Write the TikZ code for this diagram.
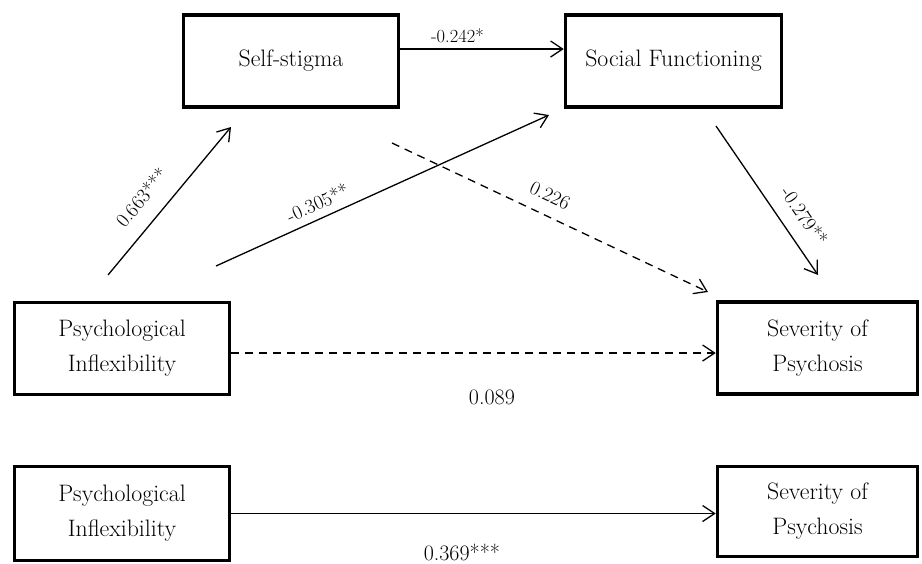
\documentclass[tikz,border=0pt]{standalone}
\usetikzlibrary{arrows.meta,calc}
\begin{document}
\begin{tikzpicture}[x=1pt,y=-1pt,
  varbox/.style={draw,line width=3.5pt,minimum width=215pt,minimum height=92pt,
    align=center,inner sep=0pt,font=\fontsize{23.8}{35}\selectfont},
  path/.style={line width=1.3pt,-{Straight Barb[length=12pt,width=16pt,line width=1.3pt]}},
  weak/.style={path,dash pattern=on 8pt off 6pt},
  coef/.style={font=\fontsize{20}{22}\selectfont,inner sep=0pt,sloped},
  coefb/.style={font=\fontsize{22}{24}\selectfont,inner sep=0pt}]
\useasboundingbox (0,0) rectangle (922,563);

% variables of the mediation model
\node[varbox] (ss) at (291,61) {Self-stigma};
\node[varbox,minimum width=216pt] (sf) at (673.5,61) {Social Functioning};
\node[varbox] (pi) at (122,348.5) {Psychological\\Inflexibility};
\node[varbox,minimum width=200pt] (sev) at (817.5,348) {Severity of\\Psychosis};

% variables of the total-effect model
\node[varbox,minimum height=94pt] (pib) at (122,513.5) {Psychological\\Inflexibility};
\node[varbox,minimum width=200pt,minimum height=90pt] (sevb) at (817.5,511.5) {Severity of\\Psychosis};

% free ends of the path arrows
\coordinate (a1s) at (108,275);  \coordinate (a1e) at (231,127);
\coordinate (a2s) at (216,266);  \coordinate (a2e) at (549,115);
\coordinate (a3s) at (392,143);  \coordinate (a3e) at (708,292);
\coordinate (a4s) at (716,126);  \coordinate (a4e) at (818,275);
\coordinate (h1) at ([yshift=-4.5pt]pi.east);

% mediation paths
\draw[path] ([yshift=12pt]ss.east) -- ([yshift=12pt]sf.west)
  node[coef,font=\fontsize{18.5}{20}\selectfont,pos=0.35,above=6pt] {-0.242*};
\draw[path] (a1s) -- (a1e) node[coef,pos=0.42,above=15.5pt] {0.663***};
\draw[path] (a2s) -- (a2e) node[coef,pos=0.324,above=7.5pt] {-0.305**};
\draw[weak] (a3s) -- (a3e) node[coef,pos=0.473,above=12.5pt] {0.226};
\draw[path] (a4s) -- (a4e) node[coef,pos=0.688,above=14pt] {-0.279**};
\draw[weak] (h1) -- (h1 -| sev.west) node[coefb,pos=0.538,below=36pt] {0.089};

% total effect
\draw[path] (pib.east) -- (pib.east -| sevb.west)
  node[coefb,pos=0.476,below=30pt] {0.369***};
\end{tikzpicture}
\end{document}
